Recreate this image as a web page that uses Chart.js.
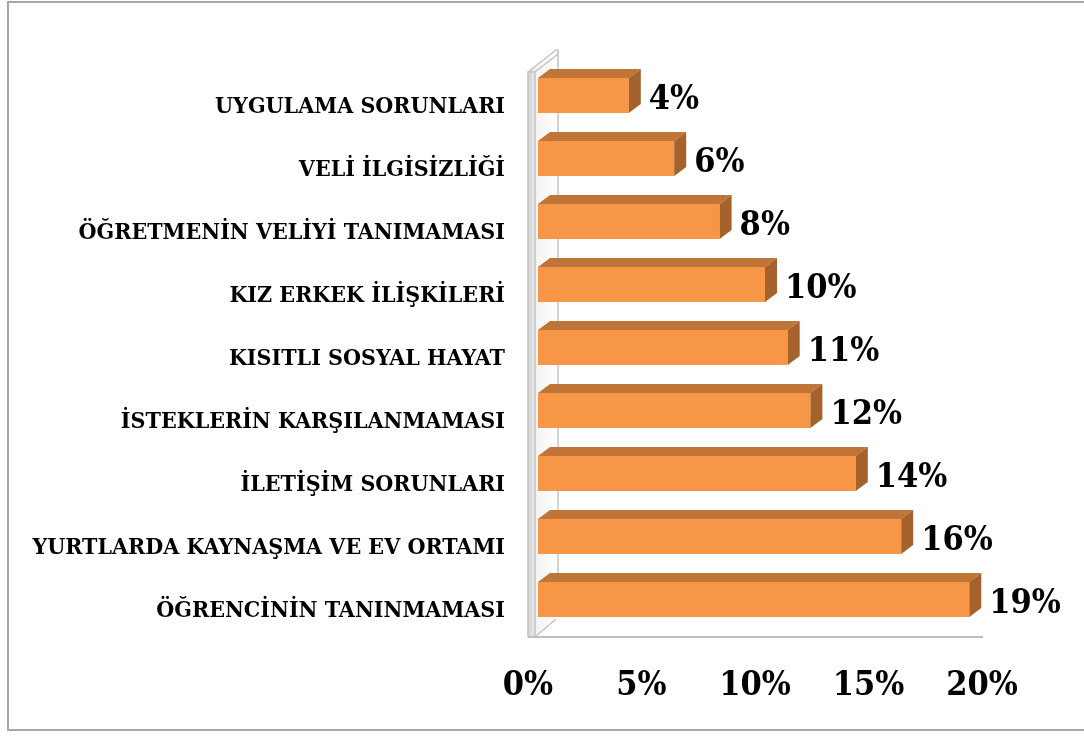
<!DOCTYPE html>
<html>
<head>
<meta charset="utf-8">
<script src="https://cdn.jsdelivr.net/npm/chart.js@4.4.1/dist/chart.umd.min.js"></script>
<style>
  html, body { margin: 0; padding: 0; background: #fff; overflow: hidden; }
  #wrap { position: relative; width: 1084px; height: 736px; }
  #frame { position: absolute; left: 7px; top: 1px; width: 1100px; height: 730px; border: 2px solid #a6a6a6; box-sizing: border-box; }
  canvas { position: absolute; left: 0; top: 0; }
</style>
</head>
<body>
<div id="wrap">
  <div id="frame"></div>
  <canvas id="chart" width="1084" height="736"></canvas>
</div>
<script>
// Data
const categories = [
  "UYGULAMA SORUNLARI",
  "VELİ İLGİSİZLİĞİ",
  "ÖĞRETMENİN VELİYİ TANIMAMASI",
  "KIZ ERKEK İLİŞKİLERİ",
  "KISITLI SOSYAL HAYAT",
  "İSTEKLERİN KARŞILANMAMASI",
  "İLETİŞİM SORUNLARI",
  "YURTLARDA KAYNAŞMA VE EV ORTAMI",
  "ÖĞRENCİNİN TANINMAMASI"
];
const values = [4, 6, 8, 10, 11, 12, 14, 16, 19];
const tickValues = [0, 5, 10, 15, 20];

const serif = "'DejaVu Serif Condensed', 'DejaVu Serif', 'Liberation Serif', serif";
const DX = 12, DY = 9; // bar depth

// 3D look: wall, floor, bar top/side faces, value labels
const depthPlugin = {
  id: "depth",
  beforeDatasetsDraw(chart) {
    const { ctx, chartArea: a } = chart;
    const fx = a.left - 10, bottom = a.bottom + 6, top = a.top + 8;
    ctx.save();
    // wall slab
    const g = ctx.createLinearGradient(fx, 0, fx + 30, 0);
    g.addColorStop(0, "#d0d0d0"); g.addColorStop(0.3, "#f4f4f4"); g.addColorStop(1, "#ffffff");
    ctx.fillStyle = g;
    ctx.beginPath();
    ctx.moveTo(fx, top); ctx.lineTo(fx + 30, top - 22); ctx.lineTo(fx + 30, bottom - 22);
    ctx.lineTo(fx + 7, bottom); ctx.lineTo(fx, bottom); ctx.closePath(); ctx.fill();
    ctx.strokeStyle = "#c4c4c4"; ctx.lineWidth = 1.5;
    ctx.beginPath();
    ctx.moveTo(fx, bottom); ctx.lineTo(fx, top); ctx.lineTo(fx + 7, top);
    ctx.moveTo(fx + 7, top); ctx.lineTo(fx + 7, bottom);
    ctx.moveTo(fx, top); ctx.lineTo(fx + 28, top - 22); ctx.lineTo(fx + 30, top - 22);
    ctx.moveTo(fx + 7, top); ctx.lineTo(fx + 30, top - 18);
    ctx.moveTo(fx + 30, top - 22); ctx.lineTo(fx + 30, bottom - 22);
    ctx.moveTo(fx + 7, bottom); ctx.lineTo(fx + 28, bottom - 18);
    ctx.stroke();
    // floor line
    ctx.strokeStyle = "#bfbfbf"; ctx.lineWidth = 2;
    ctx.beginPath(); ctx.moveTo(fx, bottom); ctx.lineTo(a.left + 445, bottom); ctx.stroke();
    ctx.restore();
  },
  afterDatasetsDraw(chart) {
    const { ctx } = chart;
    const meta = chart.getDatasetMeta(0);
    ctx.save();
    meta.data.forEach((bar, i) => {
      const x0 = bar.base, x1 = bar.x;
      const yt = bar.y - bar.height / 2, yb = bar.y + bar.height / 2;
      ctx.fillStyle = "#c07538";
      ctx.beginPath();
      ctx.moveTo(x0, yt); ctx.lineTo(x0 + DX, yt - DY); ctx.lineTo(x1 + DX, yt - DY); ctx.lineTo(x1, yt);
      ctx.closePath(); ctx.fill();
      ctx.fillStyle = "#a5622d";
      ctx.beginPath();
      ctx.moveTo(x1, yt); ctx.lineTo(x1 + DX, yt - DY); ctx.lineTo(x1 + DX, yb - DY); ctx.lineTo(x1, yb);
      ctx.closePath(); ctx.fill();
      ctx.fillStyle = "#000";
      ctx.font = "bold 34px " + serif;
      ctx.textAlign = "left"; ctx.textBaseline = "middle";
      ctx.fillText(values[i] + "%", x1 + DX + 8, bar.y + 5);
    });
    ctx.restore();
  }
};

new Chart(document.getElementById("chart"), {
  type: "bar",
  data: {
    labels: categories,
    datasets: [{
      data: values,
      backgroundColor: "#f79646",
      borderWidth: 0,
      barPercentage: 0.556,
      categoryPercentage: 1
    }]
  },
  options: {
    indexAxis: "y",
    responsive: false,
    animation: false,
    layout: { padding: { left: 0, right: 92, top: 64, bottom: 35 } },
    plugins: { legend: { display: false }, tooltip: { enabled: false } },
    scales: {
      x: {
        min: 0, max: 20,
        afterFit: s => { s.height = 70; },
        afterBuildTicks: s => { s.ticks = tickValues.map(v => ({ value: v })); },
        grid: { display: false, drawTicks: false },
        border: { display: false },
        ticks: {
          padding: 35,
          labelOffset: -10,
          color: "#000",
          font: { family: serif, size: 34, weight: "bold" },
          callback: v => v + "%"
        }
      },
      y: {
        afterFit: s => { s.width = 538; },
        grid: { display: false, drawTicks: false },
        border: { display: false },
        ticks: {
          padding: 33,
          labelOffset: 12,
          color: "#000",
          font: { family: serif, size: 23, weight: "bold" }
        }
      }
    }
  },
  plugins: [depthPlugin]
});
</script>
</body>
</html>
